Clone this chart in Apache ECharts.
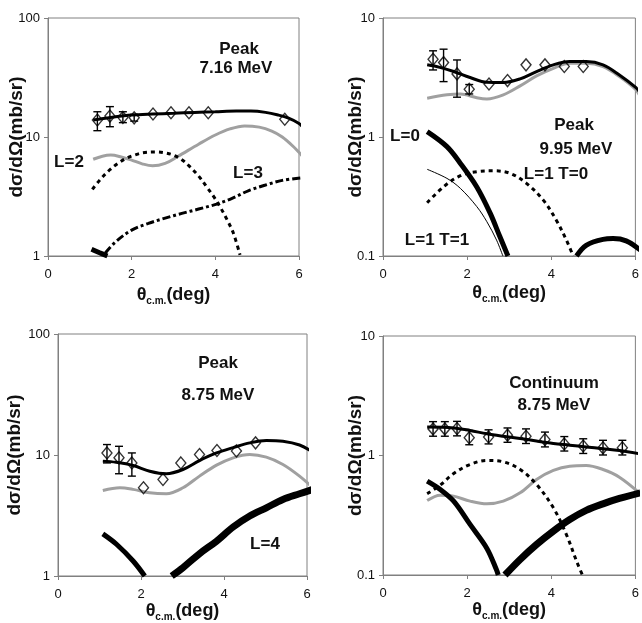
<!DOCTYPE html>
<html>
<head>
<meta charset="utf-8">
<script src="https://cdn.jsdelivr.net/npm/echarts@6/dist/echarts.min.js"></script>
<style>
  html, body { margin: 0; padding: 0; background: #fff; }
  #chart { width: 642px; height: 623px; }
</style>
</head>
<body>
<div id="chart"></div>
<script>
// ---- data: [theta (deg), dsigma/dOmega (mb/sr)] ----

// Panel 1: Peak 7.16 MeV
var p1Theta = [1.18, 1.48, 1.79, 2.06, 2.51, 2.94, 3.37, 3.83, 5.66];
var p1Sigma = [13.9, 15.0, 14.6, 14.5, 15.6, 16.0, 16.0, 16.0, 14.1];
var p1ErrLow = [11.3, 12.2, 13.2, 13.6, null, null, null, null, null];
var p1ErrHigh = [16.3, 18.0, 16.3, 15.5, null, null, null, null, null];
var p1Total = [[1.08, 13.9], [1.5, 14.6], [2.0, 15.3], [2.5, 15.6], [3.0, 15.8], [3.5, 16.1], [4.0, 16.3],
  [4.5, 16.5], [4.85, 16.5], [5.2, 16.1], [5.5, 15.3], [5.75, 14.4], [6.0, 13.0], [6.1, 12.0]];
var p1Gray = [[1.08, 6.5], [1.3, 6.9], [1.5, 7.05], [1.75, 6.8], [2.0, 6.4], [2.25, 5.95], [2.5, 5.72],
  [2.8, 6.0], [3.1, 6.85], [3.6, 8.7], [4.0, 10.4], [4.35, 11.7], [4.7, 12.4], [5.05, 12.1],
  [5.35, 11.2], [5.6, 10.0], [5.85, 8.4], [6.1, 6.8]];
var p1L2 = [[1.06, 3.63], [1.25, 4.4], [1.47, 5.28], [1.67, 6.0], [1.87, 6.62], [2.07, 7.05], [2.27, 7.38],
  [2.59, 7.48], [2.8, 7.35], [2.99, 7.06], [3.2, 6.45], [3.39, 5.63], [3.6, 4.7], [3.79, 3.82],
  [3.95, 3.2], [4.11, 2.6], [4.27, 2.05], [4.43, 1.56], [4.59, 1.02]];
var p1L3 = [[1.37, 1.06], [1.6, 1.3], [2.0, 1.65], [2.4, 1.88], [2.8, 2.08], [3.2, 2.28], [3.6, 2.48],
  [4.03, 2.73], [4.4, 3.05], [4.8, 3.55], [5.2, 3.95], [5.6, 4.32], [6.1, 4.55]];
var p1Heavy = [[1.04, 1.14], [1.22, 1.07], [1.42, 1.0]];

// Panel 2: Peak 9.95 MeV
var p2Theta = [1.19, 1.44, 1.76, 2.05, 2.52, 2.96, 3.40, 3.85, 4.31, 4.76];
var p2Sigma = [4.5, 4.22, 3.39, 2.52, 2.79, 2.98, 4.04, 4.04, 3.91, 3.91];
var p2ErrLow = [3.66, 2.92, 2.16, 2.3, null, null, null, null, null, null];
var p2ErrHigh = [5.3, 5.47, 4.44, 2.76, null, null, null, null, null, null];
var p2Total = [[1.05, 4.04], [1.35, 3.85], [1.68, 3.55], [2.07, 3.16], [2.47, 2.88], [2.86, 2.87],
  [3.26, 3.08], [3.65, 3.55], [4.05, 4.04], [4.44, 4.3], [4.83, 4.3], [5.23, 4.04], [5.62, 3.32],
  [6.0, 2.62], [6.12, 2.33]];
var p2Gray = [[1.05, 2.12], [1.52, 2.26], [1.84, 2.3], [2.23, 2.14], [2.47, 2.09], [2.86, 2.26],
  [3.26, 2.69], [3.65, 3.26], [4.05, 3.78], [4.44, 4.17], [4.83, 4.17], [5.23, 3.9], [5.62, 3.22],
  [6.0, 2.52], [6.12, 2.18]];
var p2L0 = [[1.05, 1.11], [1.52, 0.83], [1.84, 0.6], [2.23, 0.38], [2.55, 0.228], [2.78, 0.145], [2.97, 0.1]];
var p2L0Far = [[4.6, 0.1], [4.83, 0.123], [5.23, 0.138], [5.47, 0.14], [5.78, 0.134], [6.12, 0.112]];
var p2L1T1 = [[1.05, 0.535], [1.52, 0.449], [1.84, 0.37], [2.23, 0.26], [2.47, 0.194], [2.7, 0.136], [2.85, 0.1]];
var p2L1T0 = [[1.05, 0.28], [1.44, 0.382], [1.84, 0.473], [2.23, 0.511], [2.63, 0.52], [3.02, 0.495],
  [3.41, 0.408], [3.81, 0.295], [4.12, 0.2], [4.36, 0.136], [4.52, 0.1]];

// Panel 3: Peak 8.75 MeV
var p3Theta = [1.18, 1.47, 1.78, 2.06, 2.53, 2.96, 3.41, 3.83, 4.30, 4.76];
var p3Sigma = [10.4, 9.48, 8.6, 5.36, 6.28, 8.6, 10.1, 10.9, 10.8, 12.6];
var p3ErrLow = [8.6, 7.0, 6.69, null, null, null, null, null, null, null];
var p3ErrHigh = [12.2, 11.8, 10.4, null, null, null, null, null, null, null];
var p3Total = [[1.08, 8.9], [1.4, 8.7], [1.81, 8.19], [2.21, 7.35], [2.61, 7.0], [3.01, 7.59], [3.41, 9.0],
  [3.82, 10.4], [4.22, 11.5], [4.62, 12.6], [5.02, 13.2], [5.42, 13.0], [5.82, 12.1], [6.14, 10.6]];
var p3Gray = [[1.08, 5.09], [1.49, 5.36], [1.81, 5.2], [2.21, 4.87], [2.61, 4.78], [3.01, 5.36], [3.41, 6.69],
  [3.82, 8.24], [4.22, 9.48], [4.62, 10.1], [5.02, 9.6], [5.42, 8.35], [5.82, 6.69], [6.14, 5.36]];
var p3L4 = [[1.08, 2.23], [1.41, 1.83], [1.81, 1.33], [2.09, 1.0]];
var p3L4Far = [[2.74, 1.0], [3.01, 1.17], [3.41, 1.53], [3.82, 1.94], [4.22, 2.54], [4.62, 3.13],
  [5.02, 3.66], [5.42, 4.29], [5.82, 4.78], [6.14, 5.19]];

// Panel 4: Continuum 8.75 MeV
var p4Theta = [1.19, 1.47, 1.76, 2.05, 2.51, 2.96, 3.40, 3.85, 4.31, 4.76, 5.23, 5.69];
var p4Sigma = [1.67, 1.67, 1.68, 1.41, 1.43, 1.48, 1.45, 1.36, 1.25, 1.20, 1.16, 1.16];
var p4ErrLow = [1.45, 1.45, 1.46, 1.23, 1.25, 1.29, 1.26, 1.18, 1.09, 1.04, 1.01, 1.01];
var p4ErrHigh = [1.92, 1.92, 1.93, 1.62, 1.64, 1.70, 1.67, 1.57, 1.44, 1.38, 1.34, 1.34];
var p4Total = [[1.05, 1.73], [1.68, 1.7], [2.07, 1.62], [2.47, 1.52], [2.86, 1.45], [3.26, 1.39], [3.65, 1.32],
  [4.05, 1.26], [4.44, 1.22], [4.83, 1.18], [5.23, 1.14], [5.62, 1.1], [6.12, 1.03]];
var p4Dash = [[1.05, 0.478], [1.36, 0.565], [1.68, 0.707], [2.07, 0.841], [2.47, 0.908], [2.86, 0.885],
  [3.26, 0.764], [3.65, 0.572], [4.05, 0.365], [4.36, 0.218], [4.6, 0.131], [4.74, 0.1]];
var p4Gray = [[1.05, 0.42], [1.36, 0.466], [1.68, 0.457], [2.07, 0.415], [2.47, 0.394], [2.86, 0.415],
  [3.26, 0.487], [3.65, 0.63], [4.05, 0.75], [4.44, 0.814], [4.83, 0.825], [5.23, 0.764], [5.62, 0.659],
  [6.12, 0.478]];
var p4Heavy = [[1.05, 0.61], [1.36, 0.52], [1.68, 0.415], [2.07, 0.265], [2.47, 0.167], [2.7, 0.11], [2.74, 0.1]];
var p4HeavyFar = [[2.9, 0.1], [3.26, 0.135], [3.65, 0.18], [4.05, 0.233], [4.44, 0.291], [4.83, 0.347],
  [5.23, 0.394], [5.62, 0.437], [6.12, 0.487]];

var xTicks = [0, 2, 4, 6];

// ---- helpers ----
var font = "'Liberation Sans', Arial, sans-serif";
var frame = '#808080';

function curve(idx, data, width, color, type) {
  return {
    type: 'line', xAxisIndex: idx, yAxisIndex: idx, data: data,
    smooth: 0.35, symbol: 'none', clip: false, silent: true,
    lineStyle: { width: width, color: color || '#000', type: type || 'solid', cap: 'butt' }
  };
}

function points(idx, theta, sigma) {
  return {
    type: 'scatter', xAxisIndex: idx, yAxisIndex: idx, z: 4,
    data: theta.map(function (t, i) { return [t, sigma[i]]; }),
    symbol: 'diamond', symbolSize: [10, 12],
    itemStyle: { color: 'rgba(255,255,255,0)', borderColor: '#000', borderWidth: 1.4 }
  };
}

function errorBars(idx, theta, low, high) {
  var data = [];
  theta.forEach(function (t, i) {
    if (low[i] != null) data.push([t, low[i], high[i]]);
  });
  return {
    type: 'custom', xAxisIndex: idx, yAxisIndex: idx, z: 5, clip: false,
    encode: { x: 0, y: [1, 2] }, data: data,
    renderItem: function (params, api) {
      var x = api.value(0);
      var lo = api.coord([x, api.value(1)]);
      var hi = api.coord([x, api.value(2)]);
      var w = 4;
      var st = { stroke: '#000', lineWidth: 1.4 };
      return {
        type: 'group',
        children: [
          { type: 'line', shape: { x1: lo[0], y1: lo[1], x2: hi[0], y2: hi[1] }, style: st },
          { type: 'line', shape: { x1: lo[0] - w, y1: lo[1], x2: lo[0] + w, y2: lo[1] }, style: st },
          { type: 'line', shape: { x1: hi[0] - w, y1: hi[1], x2: hi[0] + w, y2: hi[1] }, style: st }
        ]
      };
    }
  };
}

function xAxis(idx, gap) {
  return {
    type: 'value', gridIndex: idx, min: xTicks[0], max: xTicks[xTicks.length - 1], interval: 2,
    name: '{t|θ}{s|c.m.}{t|(deg)}', nameLocation: 'middle', nameGap: gap,
    nameTextStyle: {
      rich: {
        t: { fontFamily: font, fontSize: 18, fontWeight: 'bold', color: '#111', lineHeight: 22 },
        s: { fontFamily: font, fontSize: 10, fontWeight: 'bold', color: '#111', lineHeight: 10, verticalAlign: 'bottom' }
      }
    },
    axisLine: { show: true, onZero: false, lineStyle: { color: frame } },
    axisTick: { show: true, length: 4, lineStyle: { color: frame } },
    axisLabel: { color: '#111', fontFamily: font, fontSize: 13, margin: 12 },
    splitLine: { show: false }
  };
}

function yAxis(idx, min, max, gap) {
  return {
    type: 'log', logBase: 10, gridIndex: idx, min: min, max: max,
    name: 'dσ/dΩ(mb/sr)', nameLocation: 'middle', nameGap: gap, nameRotate: 90,
    nameMoveOverlap: false,
    nameTextStyle: { fontFamily: font, fontSize: 19, fontWeight: 'bold', color: '#111' },
    axisLine: { show: true, lineStyle: { color: frame } },
    axisTick: { show: true, length: 4, lineStyle: { color: frame } },
    minorTick: { show: false },
    axisLabel: {
      color: '#111', fontFamily: font, fontSize: 13, margin: 8,
      formatter: function (v) { return String(Number(v.toPrecision(2))); }
    },
    splitLine: { show: false }
  };
}

function label(x, y, text) {
  return {
    type: 'text', x: x, y: y,
    style: { text: text, fontFamily: font, fontSize: 17, fontWeight: 'bold', fill: '#111', align: 'center', verticalAlign: 'middle' }
  };
}

var gray = '#a0a0a0';

var option = {
  animation: false,
  backgroundColor: '#fff',
  grid: [
    { left: 48, top: 18, width: 251, height: 238, show: true, borderColor: frame, borderWidth: 1 },
    { left: 383, top: 18, width: 254, height: 238, show: true, borderColor: frame, borderWidth: 1 },
    { left: 58, top: 334, width: 249, height: 242, show: true, borderColor: frame, borderWidth: 1 },
    { left: 383, top: 336, width: 254, height: 239, show: true, borderColor: frame, borderWidth: 1 }
  ],
  xAxis: [xAxis(0, 28), xAxis(1, 26), xAxis(2, 24), xAxis(3, 22)],
  yAxis: [yAxis(0, 1, 100, 22), yAxis(1, 0.1, 10, 18), yAxis(2, 1, 100, 34), yAxis(3, 0.1, 10, 18)],
  series: [
    // panel 1
    curve(0, p1Gray, 3, gray),
    curve(0, p1L2, 3, '#000', [4, 4]),
    curve(0, p1L3, 3, '#000', [8, 3, 3, 3]),
    curve(0, p1Heavy, 5),
    curve(0, p1Total, 3),
    points(0, p1Theta, p1Sigma),
    errorBars(0, p1Theta, p1ErrLow, p1ErrHigh),
    // panel 2
    curve(1, p2Gray, 3, gray),
    curve(1, p2L1T0, 3, '#000', [4, 4]),
    curve(1, p2L1T1, 1),
    curve(1, p2L0, 5),
    curve(1, p2L0Far, 5),
    curve(1, p2Total, 3),
    points(1, p2Theta, p2Sigma),
    errorBars(1, p2Theta, p2ErrLow, p2ErrHigh),
    // panel 3
    curve(2, p3Gray, 3, gray),
    curve(2, p3L4, 5),
    curve(2, p3L4Far, 7),
    curve(2, p3Total, 3),
    points(2, p3Theta, p3Sigma),
    errorBars(2, p3Theta, p3ErrLow, p3ErrHigh),
    // panel 4
    curve(3, p4Gray, 3, gray),
    curve(3, p4Dash, 3, '#000', [4, 4]),
    curve(3, p4Heavy, 5),
    curve(3, p4HeavyFar, 7),
    curve(3, p4Total, 3),
    points(3, p4Theta, p4Sigma),
    errorBars(3, p4Theta, p4ErrLow, p4ErrHigh)
  ],
  graphic: [
    label(239, 49, 'Peak'), label(236, 68, '7.16 MeV'),
    label(69, 162, 'L=2'), label(248, 173, 'L=3'),
    label(405, 136, 'L=0'), label(574, 125, 'Peak'), label(576, 149, '9.95 MeV'),
    label(556, 174, 'L=1 T=0'), label(437, 240, 'L=1 T=1'),
    label(218, 363, 'Peak'), label(218, 395, '8.75 MeV'), label(265, 544, 'L=4'),
    label(554, 383, 'Continuum'), label(554, 405, '8.75 MeV')
  ]
};

var myChart = echarts.init(document.getElementById('chart'));
myChart.setOption(option);
</script>
</body>
</html>
